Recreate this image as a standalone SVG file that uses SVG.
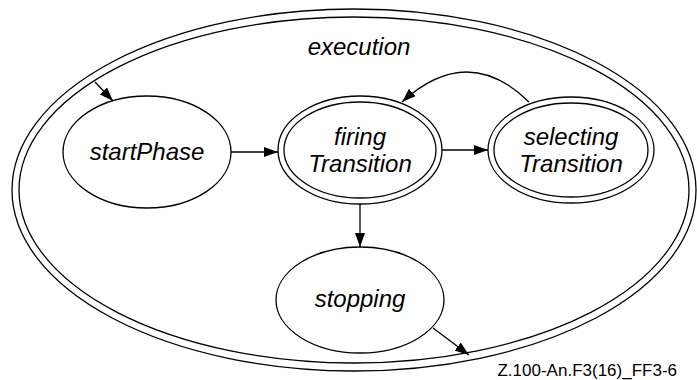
<svg xmlns="http://www.w3.org/2000/svg" width="697" height="380" viewBox="0 0 697 380">
<style>
.s{fill:none;stroke:#000;stroke-width:1.3}
.t{font-family:"Liberation Sans",Arial,sans-serif;font-style:italic;font-size:24px;text-anchor:middle;fill:#000}
.e{stroke:#000;stroke-width:1.3;fill:none}
</style>
<defs>
<marker id="a" viewBox="0 0 14 10" refX="14" refY="5" markerWidth="14" markerHeight="10" markerUnits="userSpaceOnUse" orient="auto">
<path d="M0,0 L14,5 L0,10 z" fill="#000"/>
</marker>
</defs>
<rect width="697" height="380" fill="#fff"/>
<g id="execution">
<ellipse class="s" cx="354" cy="190" rx="342" ry="181"/>
<ellipse class="s" cx="354" cy="190" rx="335" ry="173"/>
<text class="t" x="359" y="55">execution</text>
</g>
<g id="startPhase">
<ellipse class="s" cx="147" cy="152" rx="84" ry="56"/>
<text class="t" x="147" y="160">startPhase</text>
</g>
<g id="firingTransition">
<ellipse class="s" cx="360" cy="150" rx="82" ry="54"/>
<ellipse class="s" cx="360" cy="150" rx="76" ry="48"/>
<text class="t" x="360" y="145">firing</text>
<text class="t" x="360" y="172">Transition</text>
</g>
<g id="selectingTransition">
<ellipse class="s" cx="571" cy="150" rx="83" ry="53"/>
<ellipse class="s" cx="571" cy="150" rx="77" ry="47"/>
<text class="t" x="571" y="145">selecting</text>
<text class="t" x="571" y="172">Transition</text>
</g>
<g id="stopping">
<ellipse class="s" cx="360" cy="300" rx="84" ry="53"/>
<text class="t" x="360" y="307">stopping</text>
</g>
<g id="connectors">
<line class="e" x1="95" y1="82" x2="113" y2="101" marker-end="url(#a)"/>
<line class="e" x1="231" y1="152" x2="278" y2="152" marker-end="url(#a)"/>
<line class="e" x1="442" y1="150" x2="488" y2="150" marker-end="url(#a)"/>
<path class="e" d="M529,102 Q468,42 402,102" marker-end="url(#a)"/>
<line class="e" x1="360" y1="204" x2="360" y2="247" marker-end="url(#a)"/>
<line class="e" x1="433" y1="328" x2="469" y2="355" marker-end="url(#a)"/>
</g>
<text x="677" y="376" font-family="Liberation Sans,Arial,sans-serif" font-size="17" text-anchor="end" fill="#000">Z.100-An.F3(16)_FF3-6</text>
</svg>
